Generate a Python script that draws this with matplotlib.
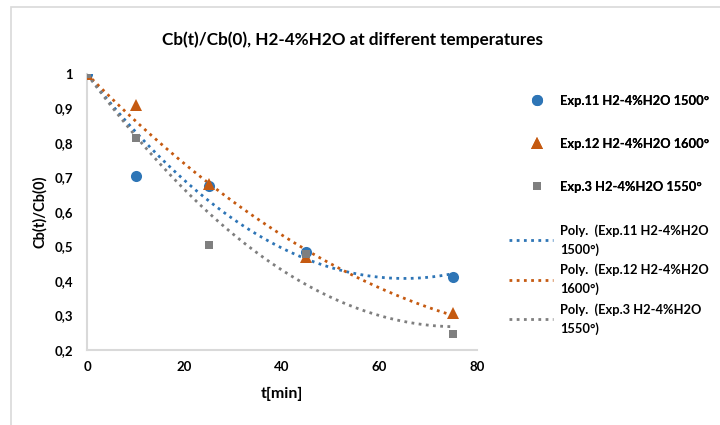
import numpy as np
import matplotlib
matplotlib.use("Agg")
import matplotlib.pyplot as plt
from matplotlib.patches import Rectangle
from matplotlib.ticker import FuncFormatter

plt.rcParams['font.family'] = ['Lato', 'DejaVu Sans']

# Sampling times [min]
t = [0, 10, 25, 45, 75]

# Normalised concentration Cb(t)/Cb(0)
exp11 = [1.0, 0.705, 0.675, 0.485, 0.411]   # H2-4%H2O 1500°
exp12 = [1.0, 0.910, 0.680, 0.470, 0.307]   # H2-4%H2O 1600°
exp3 = [1.0, 0.814, 0.504, 0.478, 0.246]    # H2-4%H2O 1550°

names = ["Exp.11 H2-4%H2O 1500°", "Exp.12 H2-4%H2O 1600°", "Exp.3 H2-4%H2O 1550°"]
fit_names = ["Poly.  (Exp.11 H2-4%H2O\n1500°)", "Poly.  (Exp.12 H2-4%H2O\n1600°)",
             "Poly.  (Exp.3 H2-4%H2O\n1550°)"]

colors = ["#2e75b6", "#c55a11", "#7f7f7f"]
markers = ["o", "^", "s"]
sizes = [8, 8, 5.5]

fig = plt.figure(figsize=(7.2, 4.25), dpi=100)
ax = fig.add_axes([87 / 720, 1 - 350 / 425, 390 / 720, (350 - 74) / 425])

# outer chart frame
fig.patches.append(Rectangle((11 / 720, -0.1), 1.2, 1 - 7 / 425 + 0.1,
                             transform=fig.transFigure, fill=False,
                             edgecolor="#d9d9d9", linewidth=1.2))

series = [exp11, exp12, exp3]
point_handles = []
for y, c, m, s, n in zip(series, colors, markers, sizes, names):
    h, = ax.plot(t, y, linestyle="none", marker=m, color=c, markersize=s,
                 markeredgewidth=0, label=n, zorder=3)
    point_handles.append(h)

# second-order polynomial trend lines with the intercept held at 1
tarr = np.asarray(t, dtype=float)
tt = np.linspace(tarr.min(), tarr.max(), 200)
design = np.column_stack([tarr, tarr ** 2])
fit_handles = []
for y, c, n in zip(series, colors, fit_names):
    (a, b), *_ = np.linalg.lstsq(design, np.asarray(y) - 1.0, rcond=None)
    h, = ax.plot(tt, 1.0 + a * tt + b * tt ** 2, linestyle=(0, (1, 1.6)), color=c,
                 linewidth=2.0, label=n, zorder=2)
    fit_handles.append(h)

ax.set_xlim(0, 80)
ax.set_ylim(0.2, 1.0)
ax.set_xticks([0, 20, 40, 60, 80])
ax.set_yticks(np.round(np.arange(0.2, 1.01, 0.1), 1))
ax.yaxis.set_major_formatter(FuncFormatter(
    lambda v, p: "1" if abs(v - 1) < 1e-9 else f"{v:.1f}".replace(".", ",")))

for side in ["top", "right"]:
    ax.spines[side].set_visible(False)
for side in ["left", "bottom"]:
    ax.spines[side].set_color("#d9d9d9")
    ax.spines[side].set_linewidth(1.5)
ax.tick_params(length=0, labelsize=9.5, colors="#000000")
ax.tick_params(axis="y", pad=10)
ax.tick_params(axis="x", pad=8)
for lab in ax.get_xticklabels() + ax.get_yticklabels():
    lab.set_fontweight("bold")

ax.set_xlabel("t[min]", fontsize=11.5, fontweight="bold", labelpad=10)
ax.set_ylabel("Cb(t)/Cb(0)", fontsize=10.5, fontweight="bold", labelpad=5)

fig.text(352 / 720, 1 - 40 / 425, "Cb(t)/Cb(0), H2-4%H2O at different temperatures",
         ha="center", va="center", fontsize=12.3, fontweight="bold")

fs = 9.3
leg1 = fig.legend(handles=point_handles, loc="upper left",
                  bbox_to_anchor=(521 / 720, 1 - 95 / 425), frameon=False,
                  fontsize=fs, handlelength=2.5, handletextpad=0.55,
                  labelspacing=2.4, borderaxespad=0, borderpad=0)
leg2 = fig.legend(handles=fit_handles, loc="upper left",
                  bbox_to_anchor=(509 / 720, 1 - 224 / 425), frameon=False,
                  fontsize=fs, handlelength=3.4, handletextpad=0.55,
                  labelspacing=0.6, borderaxespad=0, borderpad=0)
fig.add_artist(leg1)
for lg in (leg1, leg2):
    for txt in lg.get_texts():
        txt.set_fontweight("bold")
        txt.set_linespacing(1.6)

fig.savefig("out.png", dpi=100)
